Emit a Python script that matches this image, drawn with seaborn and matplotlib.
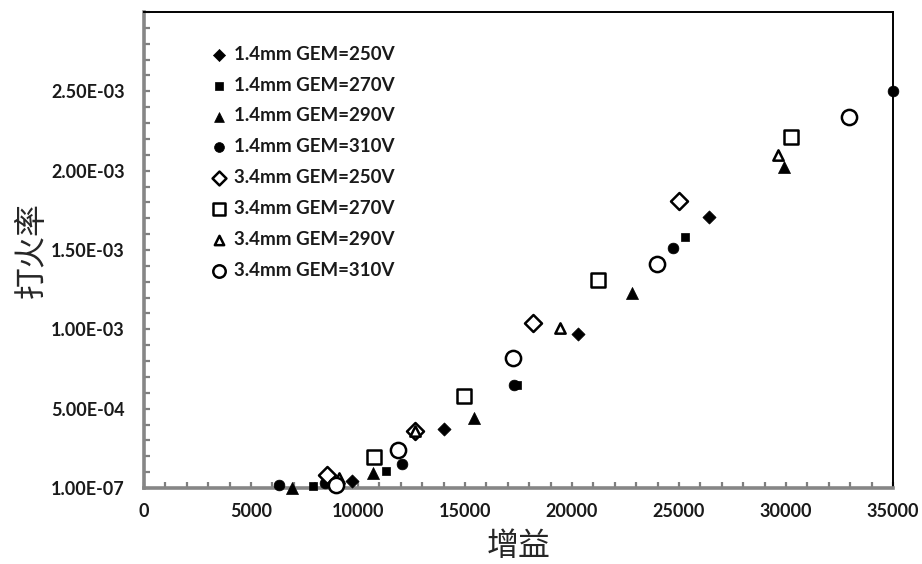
import matplotlib
matplotlib.use("Agg")
import matplotlib.pyplot as plt
from matplotlib.ticker import FixedLocator, FixedFormatter, MultipleLocator
import seaborn as sns
import pandas as pd

sns.set_theme(style="white")
plt.rcParams["font.family"] = ["Lato", "DejaVu Sans", "Noto Sans CJK SC"]

# Gain (x) and discharge probability (y) per detector setting
labels = [
    "1.4mm GEM=250V", "1.4mm GEM=270V", "1.4mm GEM=290V", "1.4mm GEM=310V",
    "3.4mm GEM=250V", "3.4mm GEM=270V", "3.4mm GEM=290V", "3.4mm GEM=310V",
]

gain_14_250 = [9700, 14000, 20300, 26400]
rate_14_250 = [4.4e-5, 3.7e-4, 9.7e-4, 1.71e-3]

gain_14_270 = [7900, 11300, 17450, 25300]
rate_14_270 = [1.3e-5, 1.07e-4, 6.5e-4, 1.58e-3]

gain_14_290 = [6900, 10700, 15400, 22800, 29900]
rate_14_290 = [1e-7, 9.4e-5, 4.4e-4, 1.23e-3, 2.02e-3]

gain_14_310 = [6300, 8450, 12050, 17300, 24700, 35000]
rate_14_310 = [1.9e-5, 3.0e-5, 1.5e-4, 6.5e-4, 1.51e-3, 2.50e-3]

gain_34_250 = [8550, 12650, 18200, 25000]
rate_34_250 = [8.2e-5, 3.6e-4, 1.04e-3, 1.81e-3]

gain_34_270 = [10750, 14950, 21200, 30250]
rate_34_270 = [1.95e-4, 5.8e-4, 1.31e-3, 2.21e-3]

gain_34_290 = [9100, 12650, 19450, 29650]
rate_34_290 = [6.3e-5, 3.6e-4, 1.01e-3, 2.10e-3]

gain_34_310 = [8950, 11850, 17250, 23950, 32950]
rate_34_310 = [2.0e-5, 2.4e-4, 8.2e-4, 1.41e-3, 2.34e-3]

y_ticks = [0, 5e-4, 1e-3, 1.5e-3, 2e-3, 2.5e-3]
y_tick_labels = ["1.00E-07", "5.00E-04", "1.00E-03", "1.50E-03", "2.00E-03", "2.50E-03"]
x_ticks = [0, 5000, 10000, 15000, 20000, 25000, 30000, 35000]
x_tick_labels = [str(v) for v in x_ticks]

# marker, filled?, plot size, legend size
series = [
    (gain_14_250, rate_14_250, "D", True, 45, 38),
    (gain_14_270, rate_14_270, "s", True, 40, 36),
    (gain_14_290, rate_14_290, "^", True, 75, 50),
    (gain_14_310, rate_14_310, "o", True, 60, 50),
    (gain_34_250, rate_34_250, "D", False, 75, 50),
    (gain_34_270, rate_34_270, "s", False, 110, 80),
    (gain_34_290, rate_34_290, "^", False, 55, 45),
    (gain_34_310, rate_34_310, "o", False, 120, 80),
]

fig = plt.figure(figsize=(9.22, 5.64), dpi=100)
ax = fig.add_axes([0.1562, 0.1348, 0.8123, 0.8439])

for label, (gx, ry, mk, filled, size, _) in zip(labels, series):
    df = pd.DataFrame({"gain": gx, "rate": ry})
    if filled:
        sns.scatterplot(data=df, x="gain", y="rate", ax=ax, marker=mk, s=size,
                        color="black", edgecolor="black", linewidth=0.5,
                        label=label, clip_on=False, zorder=4)
    else:
        sns.scatterplot(data=df, x="gain", y="rate", ax=ax, marker=mk, s=size,
                        color="white", edgecolor="black", linewidth=1.8,
                        label=label, clip_on=False, zorder=4)

ax.set_xlim(0, 35000)
ax.set_ylim(0, 3e-3)

ax.xaxis.set_major_locator(FixedLocator(x_ticks))
ax.xaxis.set_major_formatter(FixedFormatter(x_tick_labels))
ax.yaxis.set_major_locator(FixedLocator(y_ticks))
ax.yaxis.set_major_formatter(FixedFormatter(y_tick_labels))
ax.xaxis.set_minor_locator(MultipleLocator(1000))
ax.yaxis.set_minor_locator(MultipleLocator(1e-4))

for t in ax.get_xticklabels() + ax.get_yticklabels():
    t.set_fontsize(13)
    t.set_fontweight("bold")
    t.set_color("#1a1a1a")

ax.tick_params(axis="both", which="both", direction="in", color="#7f7f7f",
               width=1.6, length=4, bottom=True, left=True, top=False, right=False)
ax.tick_params(axis="x", which="major", pad=11)
ax.tick_params(axis="y", which="major", pad=14)

for side in ("left", "bottom"):
    ax.spines[side].set_color("#868686")
    ax.spines[side].set_linewidth(2.6)
for side in ("top", "right"):
    ax.spines[side].set_color("black")
    ax.spines[side].set_linewidth(1.4)

ax.set_xlabel("增益", family=["Noto Sans CJK SC", "DejaVu Sans"], fontsize=23,
              labelpad=7)
ax.set_ylabel("打火率", family=["Noto Sans CJK SC", "DejaVu Sans"], fontsize=23,
              labelpad=2)

leg = ax.legend(loc="upper left", bbox_to_anchor=(0.078, 0.945), frameon=False,
                handletextpad=0.3, handlelength=1.0, labelspacing=0.74,
                prop={"size": 13.5, "weight": "bold"}, borderaxespad=0)
for h, s in zip(leg.legend_handles, series):
    h.set_sizes([s[5]])
for t in leg.get_texts():
    t.set_color("#1a1a1a")

fig.savefig("out.png", dpi=100)
